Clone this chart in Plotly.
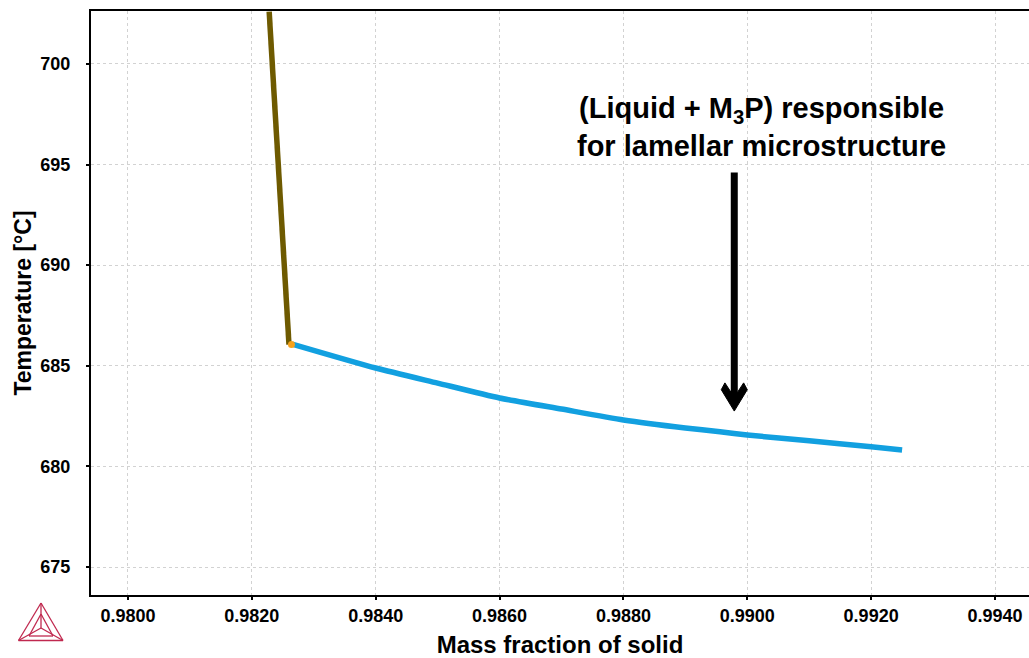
import plotly.graph_objects as go

# ---- data ----
liq_x = [0.98228, 0.98242, 0.98252, 0.98260]
liq_t = [702.6, 695.0, 690.0, 686.05]

m3p_x = [0.98265, 0.9840, 0.9850, 0.9860, 0.9870, 0.9880, 0.9890, 0.98956, 0.9900, 0.9910, 0.9920, 0.9925]
m3p_t = [686.08, 684.89, 684.14, 683.40, 682.85, 682.31, 681.91, 681.72, 681.56, 681.27, 680.98, 680.82]

junction_x = [0.98264]
junction_t = [686.06]

x_ticks = [0.9800, 0.9820, 0.9840, 0.9860, 0.9880, 0.9900, 0.9920, 0.9940]
x_tick_labels = ["0.9800", "0.9820", "0.9840", "0.9860", "0.9880", "0.9900", "0.9920", "0.9940"]
y_ticks = [675, 680, 685, 690, 695, 700]
y_tick_labels = ["675", "680", "685", "690", "695", "700"]

x_range = [0.979403, 0.994549]
y_range = [673.61, 702.63]

# arrow (data units)
arrow_x = 0.98979
arrow_tip_t = 682.75
arrow_tail_t = 694.6
head_half_w = 0.00021
head_h = 1.25
label_x = 0.99023
label_t = 696.85

FONT = "Liberation Sans, Arial, sans-serif"

fig = go.Figure()
fig.add_trace(go.Scatter(x=liq_x, y=liq_t, mode="lines",
                         line=dict(color="#6e5a00", width=5.5), showlegend=False,
                         hoverinfo="skip"))
fig.add_trace(go.Scatter(x=m3p_x, y=m3p_t, mode="lines",
                         line=dict(color="#12a0e0", width=5.5, shape="spline", smoothing=0.6),
                         showlegend=False, hoverinfo="skip"))
fig.add_trace(go.Scatter(x=junction_x, y=junction_t, mode="markers",
                         marker=dict(color="#f5a21f", size=7), showlegend=False,
                         hoverinfo="skip"))

# arrow shaft and chevron head
fig.add_shape(type="line", xref="x", yref="y",
              x0=arrow_x, y0=arrow_tail_t, x1=arrow_x, y1=arrow_tip_t + 0.5,
              line=dict(color="black", width=7))
hx, ht = head_half_w, head_h
pts = [
    (arrow_x, arrow_tip_t),
    (arrow_x - hx, arrow_tip_t + ht * 0.85),
    (arrow_x - hx * 0.72, arrow_tip_t + ht * 1.12),
    (arrow_x, arrow_tip_t + ht * 0.55),
    (arrow_x + hx * 0.72, arrow_tip_t + ht * 1.12),
    (arrow_x + hx, arrow_tip_t + ht * 0.85),
]
path = "M " + " L ".join(f"{x},{y}" for x, y in pts) + " Z"
fig.add_shape(type="path", xref="x", yref="y", path=path,
              fillcolor="black", line=dict(color="black", width=1))

fig.add_annotation(x=label_x, y=label_t, xref="x", yref="y",
                   text="<b>(Liquid + M<sub>3</sub>P) responsible<br>for lamellar microstructure</b>",
                   showarrow=False, align="center",
                   font=dict(family=FONT, size=29, color="black"))

# Thermo-Calc style logo (decoration), placed in pixel terms
W, H = 1029, 658
ML, MR, MT, MB = 91, 0, 11, 63
pw, ph = W - ML - MR, H - MT - MB


def px(x):
    return (x - ML) / pw


def py(y):
    return (H - MB - y) / ph


logo_pts = {
    "A": (41, 603), "B": (18.5, 640.5), "C": (63, 640.5), "O": (41, 628),
    "a": (41, 614), "b": (29, 636), "c": (53, 636),
}
segments = [("A", "B"), ("B", "C"), ("C", "A"), ("A", "O"), ("B", "O"), ("C", "O"),
            ("a", "b"), ("b", "c"), ("c", "a")]
for s, e in segments:
    x0, y0 = logo_pts[s]
    x1, y1 = logo_pts[e]
    fig.add_shape(type="line", xref="paper", yref="paper",
                  x0=px(x0), y0=py(y0), x1=px(x1), y1=py(y1),
                  line=dict(color="#c0294f", width=1.3))

axis_common = dict(
    showline=True, linecolor="black", linewidth=2,
    showgrid=True, gridcolor="#d2d2d2", griddash="dot", gridwidth=1,
    ticks="outside", ticklen=3, tickcolor="black", tickwidth=2,
    zeroline=False,
)

fig.update_xaxes(range=x_range, tickvals=x_ticks, ticktext=x_tick_labels,
                 mirror=True,
                 tickfont=dict(family=FONT, size=18, color="black", weight="bold"),
                 title=dict(text="<b>Mass fraction of solid</b>",
                            font=dict(family=FONT, size=24, color="black"), standoff=12),
                 **axis_common)
fig.update_yaxes(range=y_range, tickvals=y_ticks, ticktext=y_tick_labels,
                 ticklabelstandoff=12,
                 tickfont=dict(family=FONT, size=18, color="black", weight="bold"),
                 title=dict(text="<b>Temperature [°C]</b>",
                            font=dict(family=FONT, size=23, color="black"), standoff=2),
                 **axis_common)

fig.update_layout(
    width=W, height=H,
    margin=dict(l=ML, r=MR, t=MT, b=MB, autoexpand=False),
    plot_bgcolor="white", paper_bgcolor="white",
    font=dict(family=FONT, color="black"),
)

fig.write_html("out.html")
